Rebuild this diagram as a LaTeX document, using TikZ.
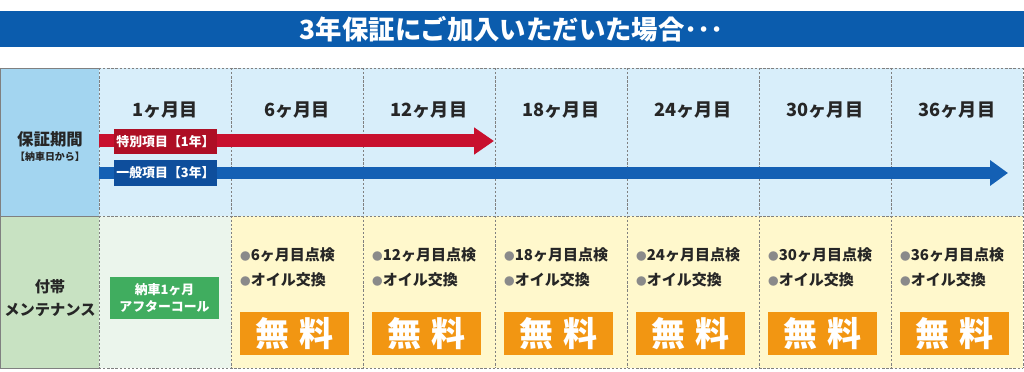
\documentclass[tikz,border=0pt]{standalone}
\usepackage{fontspec}
\setmainfont{Noto Sans CJK JP}
\usepackage{tikz}
\usepackage{xcolor}
\usetikzlibrary{arrows.meta, positioning}

\definecolor{titleblue}{HTML}{0B5CAD}
\definecolor{headblue}{HTML}{A3D5F0}
\definecolor{cellblue}{HTML}{D8EEFA}
\definecolor{headgreen}{HTML}{C8E2C2}
\definecolor{cellgreen}{HTML}{EBF5EC}
\definecolor{cellyellow}{HTML}{FFF8CC}
\definecolor{redbar}{HTML}{C8102E}
\definecolor{redbox}{HTML}{AE0F25}
\definecolor{bluebar}{HTML}{1460B4}
\definecolor{bluebox}{HTML}{0E4E9C}
\definecolor{callgreen}{HTML}{40AD5F}
\definecolor{freeorange}{HTML}{F29612}
\definecolor{dotgray}{HTML}{8A8A8A}

\tikzset{
  grid/.style={draw=gray, dash pattern=on 2pt off 1.5pt, line width=0.5pt},
  month/.style={font=\bfseries\fontsize{15.5}{18}\selectfont, text=black!85},
  item/.style={anchor=west, inner sep=0pt, font=\bfseries\fontsize{12.8}{15}\selectfont, text=black!85},
  free/.style={fill=freeorange, text=white, minimum width=3.27cm, minimum height=1.29cm,
    inner sep=0pt, font=\bfseries\fontsize{29}{32}\selectfont},
  tag/.style={text=white, minimum width=3.09cm, minimum height=0.76cm, inner sep=0pt,
    font=\bfseries\fontsize{11}{12}\selectfont},
}

\begin{document}
\begin{tikzpicture}[x=0.03cm, y=-0.03cm]
\useasboundingbox (0,0) rectangle (1024,372);
% title band
\fill[titleblue] (0,11) rectangle (1024,47);
\node[text=white, font=\bfseries\fontsize{22.5}{26}\selectfont] (title) at (512,29) {3年保証にご加入いただいた場合･･･};
% cells
\fill[headblue] (0,68) rectangle (99,216);
\fill[cellblue] (99,68) rectangle (1023,216);
\fill[headgreen] (0,216) rectangle (99,368);
\fill[cellgreen] (99,216) rectangle (231,368);
\fill[cellyellow] (231,216) rectangle (1023,368);
% grid
\draw[gray, line width=0.6pt] (0,68) -- (99,68) (0,216) -- (99,216) (0,368) -- (99,368) (0,68) -- (0,368);
\draw[grid] (99,68) -- (1023,68) (99,216) -- (1023,216) (99,368) -- (1023,368);
\foreach \i in {0,...,7}
  \draw[grid] (99+132*\i,68) -- (99+132*\i,368);
% row heads
\node[font=\bfseries\fontsize{14}{16}\selectfont, text=black!85] (period) at (50,139) {保証期間};
\node[font=\bfseries\fontsize{8.5}{10}\selectfont, text=black!85] (from) at (50,157) {【納車日から】};
\node[font=\bfseries\fontsize{13}{20}\selectfont, text=black!85, align=center] (extra) at (50,298) {付帯\\メンテナンス};
% months
\foreach \m [count=\i from 0] in {1,6,12,18,24,30,36}
  \node[month] (m\m) at (165+132*\i,110) {\m ヶ月目};
% warranty arrows
\coordinate (redstart) at (99,141);
\coordinate (redend) at (494,141);
\coordinate (bluestart) at (99,173);
\coordinate (blueend) at (1008,173);
\draw[redbar, line width=0.39cm, -{Triangle[length=0.6cm, width=0.78cm]}] (redstart) -- (redend);
\draw[bluebar, line width=0.36cm, -{Triangle[length=0.54cm, width=0.74cm]}] (bluestart) -- (blueend);
\node[tag, fill=redbox] (special) at (165.5,141.5) {特別項目【1年】};
\node[tag, fill=bluebox] (general) at (165.5,173) {一般項目【3年】};
% maintenance
\node[fill=callgreen, text=white, minimum width=3.27cm, minimum height=1.26cm, inner sep=0pt,
  align=center, font=\bfseries\fontsize{11}{15}\selectfont] (call) at (164.5,298) {納車1ヶ月\\アフターコール};
\foreach \m [count=\i from 1] in {6,12,18,24,30,36} {
  \node[item] (chk\m) at (99+132*\i+9,255) {{\color{dotgray}\fontsize{9}{9}\selectfont ●}\m ヶ月目点検};
  \node[item] (oil\m) at (99+132*\i+9,280) {{\color{dotgray}\fontsize{9}{9}\selectfont ●}オイル交換};
  \node[free] (free\m) at (99+132*\i+63.5,333.5) {無\hspace{0.3em}料};
}
\end{tikzpicture}
\end{document}
